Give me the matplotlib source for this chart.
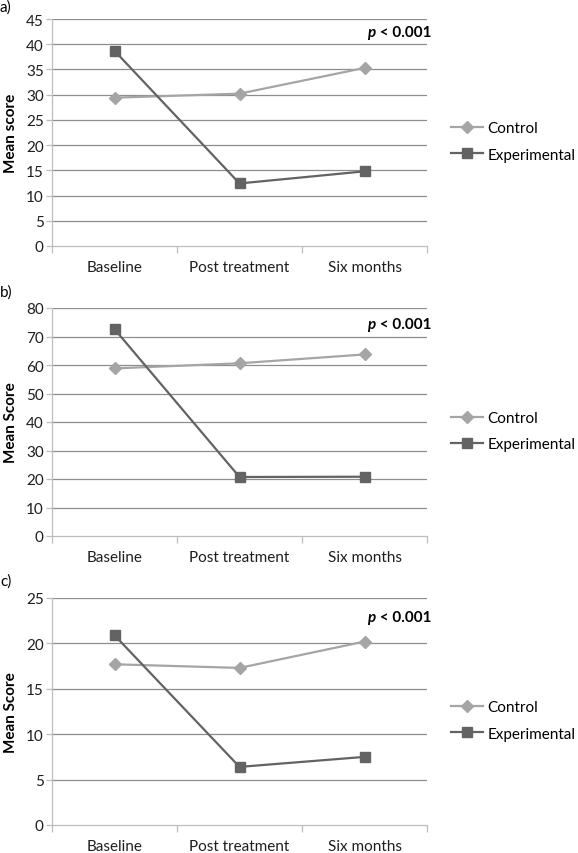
import matplotlib
matplotlib.use("Agg")
import matplotlib.pyplot as plt

categories = ["Baseline", "Post treatment", "Six months"]
series_names = ["Control", "Experimental"]

a_control = [29.4, 30.2, 35.3]
a_experimental = [38.7, 12.4, 14.8]
b_control = [58.8, 60.6, 63.7]
b_experimental = [72.6, 20.7, 20.8]
c_control = [17.7, 17.3, 20.2]
c_experimental = [20.9, 6.4, 7.5]

a_ticks = [0, 5, 10, 15, 20, 25, 30, 35, 40, 45]
b_ticks = [0, 10, 20, 30, 40, 50, 60, 70, 80]
c_ticks = [0, 5, 10, 15, 20, 25]

panel_labels = ["a)", "b)", "c)"]
ylabels = ["Mean score", "Mean Score", "Mean Score"]

plt.rcParams['font.family'] = ['Lato', 'DejaVu Sans']

W, H = 578, 854
fig = plt.figure(figsize=(W / 100, H / 100), dpi=100)

ctrl_color = "#A5A5A5"
exp_color = "#636363"
grid_color = "#8E8E8E"
spine_color = "#BEBEBE"
text_color = "#1E1E1E"
fs = 11

panels = [
    (a_control, a_experimental, a_ticks, 20, 247, 33, 8),
    (b_control, b_experimental, b_ticks, 309, 537, 325, 293),
    (c_control, c_experimental, c_ticks, 599, 826, 618, 582),
]

left_px, right_px = 52, 427
for i, (ctrl, exp, ticks, top_px, bot_px, p_y, lab_y) in enumerate(panels):
    ax = fig.add_axes([left_px / W, 1 - bot_px / H, (right_px - left_px) / W, (bot_px - top_px) / H])
    x = list(range(len(categories)))
    ax.set_xlim(-0.5, len(categories) - 0.5)
    ax.set_ylim(ticks[0], ticks[-1])
    ax.set_yticks(ticks)
    for t in ticks[1:]:
        ax.axhline(t, color=grid_color, lw=0.9, zorder=1)
    lc, = ax.plot(x, ctrl, color=ctrl_color, lw=1.6, marker="D", ms=6.5,
                  mfc=ctrl_color, mec=ctrl_color, zorder=3, label=series_names[0])
    le, = ax.plot(x, exp, color=exp_color, lw=1.6, marker="s", ms=7.5,
                  mfc=exp_color, mec=exp_color, zorder=4, label=series_names[1])
    ax.set_xticks(x)
    ax.set_xticklabels(categories, fontsize=fs, color=text_color)
    ax.set_xticks([-0.5 + k for k in range(len(categories) + 1)], minor=True)
    ax.tick_params(axis="x", which="major", length=0, pad=10)
    ax.tick_params(axis="x", which="minor", length=5, color=spine_color, width=0.9)
    ax.tick_params(axis="y", length=4, color=spine_color, width=0.9, labelsize=fs,
                   labelcolor=text_color, pad=2)
    for s in ["top", "right"]:
        ax.spines[s].set_visible(False)
    for s in ["left", "bottom"]:
        ax.spines[s].set_color(spine_color)
        ax.spines[s].set_linewidth(0.9)
    ax.set_ylabel(ylabels[i], fontsize=fs, fontweight="bold", color="black")
    ax.yaxis.set_label_coords(-(left_px - 18) / (right_px - left_px), 0.5)
    fig.text(0.0, 1 - lab_y / H, panel_labels[i], fontsize=fs, va="center", ha="left")
    # p-value text
    t2 = fig.text(431 / W, 1 - p_y / H, " < 0.001", fontsize=fs, fontweight="bold",
                  ha="right", va="center")
    fig.canvas.draw()
    bb = t2.get_window_extent()
    fig.text(bb.x0 / W, 1 - p_y / H, "p", fontsize=fs, fontweight="bold",
             style="italic", ha="right", va="center")
    # legend
    leg_y = (top_px + bot_px) / 2
    ax.legend(handles=[lc, le], loc="center left",
              bbox_to_anchor=(451 / W, 1 - (leg_y + 9) / H, 0.2, 0.0),
              bbox_transform=fig.transFigure, frameon=False, fontsize=fs,
              handlelength=2.1, handletextpad=0.3, labelspacing=0.8, borderaxespad=0,
              borderpad=0)

fig.savefig("out.png", dpi=100)
